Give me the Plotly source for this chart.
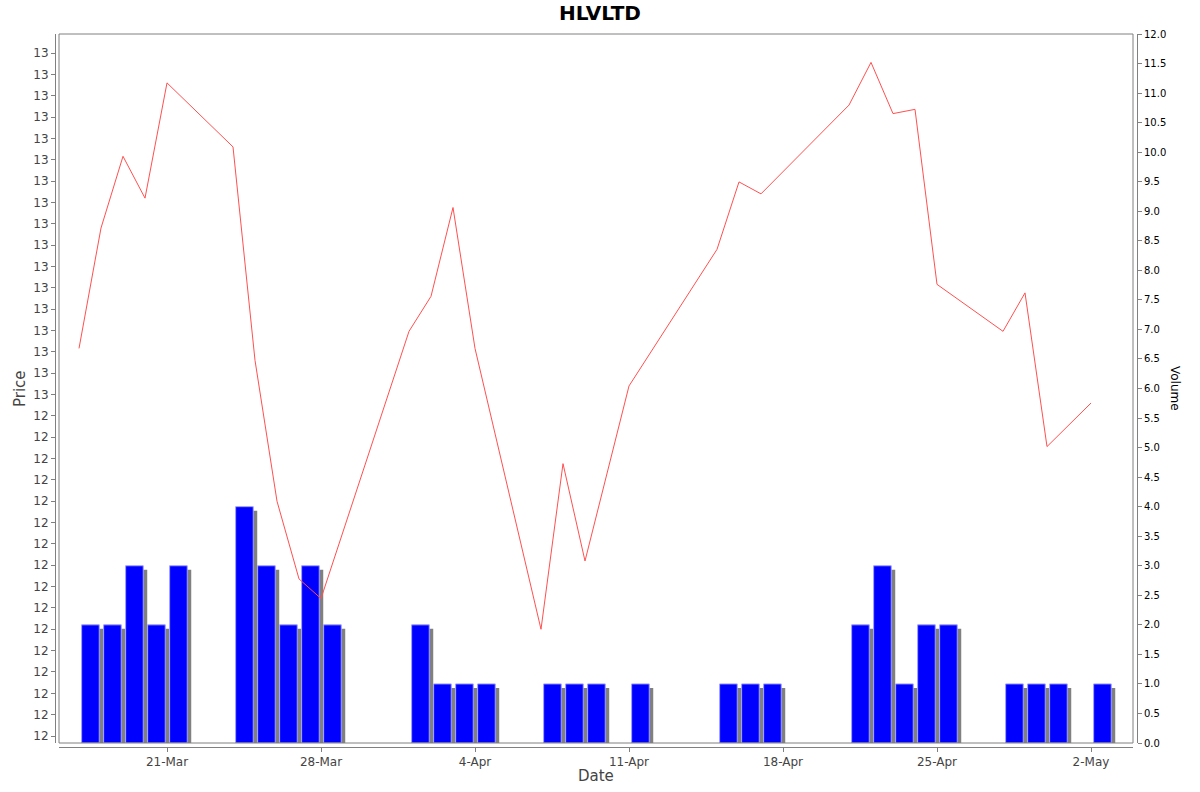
import pandas as pd
import plotly.graph_objs as go

# Data (NSE trading days, 2025)
dates = [
    "2025-03-17", "2025-03-18", "2025-03-19", "2025-03-20", "2025-03-21",
    "2025-03-24", "2025-03-25", "2025-03-26", "2025-03-27", "2025-03-28",
    "2025-04-01", "2025-04-02", "2025-04-03", "2025-04-04",
    "2025-04-07", "2025-04-08", "2025-04-09", "2025-04-11",
    "2025-04-15", "2025-04-16", "2025-04-17",
    "2025-04-21", "2025-04-22", "2025-04-23", "2025-04-24", "2025-04-25",
    "2025-04-28", "2025-04-29", "2025-04-30", "2025-05-02",
]
price = [
    12.579, 12.720, 12.804, 12.755, 12.890,
    12.815, 12.565, 12.400, 12.309, 12.286,
    12.599, 12.640, 12.744, 12.579,
    12.250, 12.444, 12.330, 12.535,
    12.695, 12.774, 12.760,
    12.864, 12.914, 12.854, 12.859, 12.654,
    12.599, 12.644, 12.464, 12.515,
]
volume = [
    2, 2, 3, 2, 3,
    4, 3, 2, 3, 2,
    2, 1, 1, 1,
    1, 1, 1, 1,
    1, 1, 1,
    2, 3, 1, 2, 2,
    1, 1, 1, 1,
]
date_ticks = ["2025-03-21", "2025-03-28", "2025-04-04", "2025-04-11",
              "2025-04-18", "2025-04-25", "2025-05-02"]

# price axis ticks (labels rounded like the original, half-even)
price_tick_start = 12.125
price_tick_step = 0.025
price_tick_vals = [round(price_tick_start + k * price_tick_step, 3) for k in range(33)]
price_tick_text = [str(round(v)) for v in price_tick_vals]

# Layout geometry (pixels in 1200x792 page)
W, H = 1200, 792
ML, MR, MT, MB = 40, 40, 30, 30
PW, PH = W - ML - MR, H - MT - MB
plot_l, plot_r, plot_t, plot_b = 59, 1133, 34, 743


def px_x(x):
    return (x - ML) / PW


def px_y(y):
    return (H - MB - y) / PH


DAY_MS = 86400000
day_px = 22.0
d0 = pd.Timestamp("2025-03-17")
x_start = d0 - pd.Timedelta(days=(79 - plot_l) / day_px)
x_end = d0 + pd.Timedelta(days=(plot_r - 79) / day_px)

dt = pd.to_datetime(dates)
shadow_dx = 4 / day_px
shadow_dy = 4 / ((plot_b - plot_t) / 12.0)

GRAY = "#808080"
FONT = "DejaVu Sans"

shadow = go.Bar(
    x=dt, y=[v - shadow_dy for v in volume],
    width=0.8 * DAY_MS, offset=(0.12 + shadow_dx) * DAY_MS,
    marker=dict(color=GRAY, line=dict(width=0)),
    yaxis="y", hoverinfo="skip",
)
bars = go.Bar(
    x=dt, y=volume,
    width=0.8 * DAY_MS, offset=0.12 * DAY_MS,
    marker=dict(color="#0000ff", line=dict(color="#a0a0ff", width=1)),
    yaxis="y", name="Volume",
)
line = go.Scatter(
    x=dt, y=price, mode="lines",
    line=dict(color="rgb(255,80,80)", width=1),
    yaxis="y2", name="Price",
)

fig = go.Figure(data=[shadow, bars, line])

fig.update_layout(
    width=W, height=H,
    margin=dict(l=ML, r=MR, t=MT, b=MB, autoexpand=False),
    paper_bgcolor="white", plot_bgcolor="white",
    showlegend=False,
    barmode="overlay",
    font=dict(family=FONT, color="#444444"),
    title=dict(text="<b>HLVLTD</b>", x=0.5, xanchor="center",
               y=1 - 13 / H, yanchor="middle",
               font=dict(family=FONT, size=20, color="black")),
    xaxis=dict(
        type="date", automargin=False,
        domain=[px_x(plot_l), px_x(plot_r)],
        range=[x_start, x_end],
        anchor="free", position=px_y(747),
        tickvals=pd.to_datetime(date_ticks), tickformat="%-d-%b",
        ticks="outside", ticklen=4, tickcolor=GRAY,
        showline=True, linecolor=GRAY, linewidth=1,
        showgrid=False, zeroline=False,
        tickfont=dict(size=12, color="#444444"),
    ),
    yaxis=dict(
        automargin=False,
        domain=[px_y(plot_b), px_y(plot_t)],
        range=[0, 12], dtick=0.5, tickformat=".1f",
        side="right", anchor="free", position=px_x(1137),
        ticks="outside", ticklen=4, tickcolor=GRAY,
        showline=True, linecolor=GRAY, linewidth=1,
        showgrid=False, zeroline=False,
        tickfont=dict(size=10, color="black"),
    ),
    yaxis2=dict(
        automargin=False,
        overlaying="y", side="left", anchor="free", position=px_x(55),
        range=[price_tick_start - (plot_b - 736) / 853.75,
               price_tick_vals[-1] + (53 - plot_t) / 853.75],
        tickvals=price_tick_vals, ticktext=price_tick_text,
        ticks="outside", ticklen=4, tickcolor=GRAY,
        showline=True, linecolor=GRAY, linewidth=1,
        showgrid=False, zeroline=False,
        tickfont=dict(size=12, color="#444444"),
    ),
    shapes=[dict(type="rect", xref="paper", yref="paper",
                 x0=px_x(plot_l), x1=px_x(plot_r),
                 y0=px_y(plot_b), y1=px_y(plot_t),
                 line=dict(color=GRAY, width=1), layer="above")],
    annotations=[
        dict(text="Date", xref="paper", yref="paper",
             x=px_x((plot_l + plot_r) / 2), y=px_y(776),
             xanchor="center", yanchor="middle", showarrow=False,
             font=dict(size=15, color="#444444")),
        dict(text="Price", xref="paper", yref="paper", textangle=-90,
             x=px_x(20), y=px_y(389),
             xanchor="center", yanchor="middle", showarrow=False,
             font=dict(size=15, color="#444444")),
        dict(text="Volume", xref="paper", yref="paper", textangle=90,
             x=px_x(1175), y=px_y(388),
             xanchor="center", yanchor="middle", showarrow=False,
             font=dict(size=12, color="black")),
    ],
)

# drop the default 8px page margin so the figure sits at (0, 0)
fig.write_html("out.html",
               config={"displayModeBar": False},
               post_script="document.body.style.margin='0';")
